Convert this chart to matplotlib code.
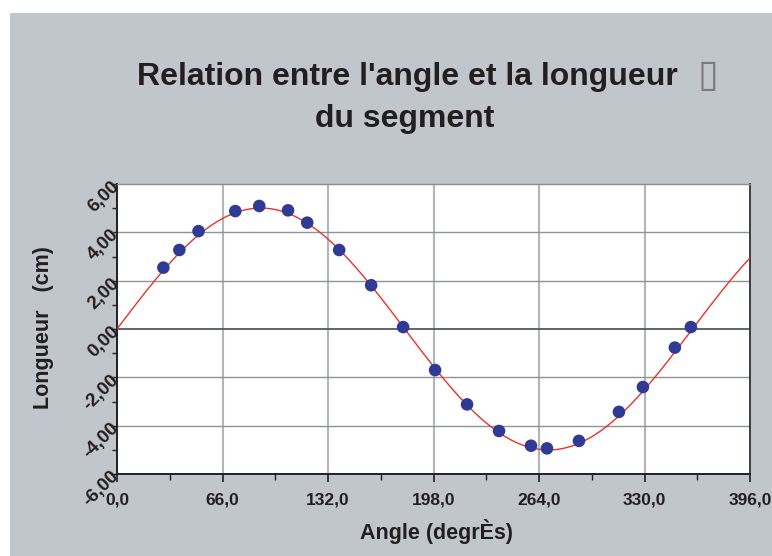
import numpy as np
import matplotlib
matplotlib.use("Agg")
import matplotlib.pyplot as plt
from matplotlib.patches import Rectangle
from matplotlib.ticker import MultipleLocator, FixedLocator

plt.rcParams['font.family'] = ['Liberation Sans', 'DejaVu Sans']

# Measured angle (degrees) and segment length (cm)
angles = [29, 39, 51, 74, 89, 107, 119, 139, 159, 179,
          199, 219, 239, 259, 269, 289, 314, 329, 349, 359]
lengths = [2.54, 3.27, 4.05, 4.88, 5.09, 4.91, 4.40, 3.27, 1.81, 0.08,
           -1.70, -3.12, -4.22, -4.83, -4.94, -4.63, -3.43, -2.40, -0.77, 0.08]

x_ticks = [0, 66, 132, 198, 264, 330, 396]
x_tick_labels = ["0,0", "66,0", "132,0", "198,0", "264,0", "330,0", "396,0"]
y_ticks = [-6, -4, -2, 0, 2, 4, 6]
y_tick_labels = ["-6,00", "-4,00", "-2,00", "0,00", "2,00", "4,00", "6,00"]

title_line1 = "Relation entre l'angle et la longueur"
title_line2 = "du segment"
x_label = "Angle (degrÈs)"
y_label = "Longueur   (cm)"

TEXT = "#231f20"
PANEL = "#c1c5cc"

W, H = 772, 556
fig = plt.figure(figsize=(W / 100, H / 100), dpi=100, facecolor="white")

# grey panel behind the chart
fig.patches.append(Rectangle((10 / W, 0), 1 - 10 / W, 1 - 13 / H,
                             transform=fig.transFigure, facecolor=PANEL,
                             edgecolor="none", zorder=-10))

ax = fig.add_axes([117 / W, 82 / H, 633 / W, 290 / H])
ax.set_facecolor("white")

# least-squares sine fit of the measurements: L = A * sin(angle)
th = np.radians(angles)
A = np.sum(np.array(lengths) * np.sin(th)) / np.sum(np.sin(th) ** 2)
xf = np.linspace(0, 396, 800)
ax.plot(xf, A * np.sin(np.radians(xf)), color="#e8322d", lw=1.0, zorder=3)

ax.scatter(angles, lengths, s=82, color="#2e3a94", edgecolors="none", zorder=4)

ax.set_xlim(0, 396)
ax.set_ylim(-6, 6)

# grid
for xv in x_ticks[1:-1]:
    ax.axvline(xv, color="#b2b6bb", lw=1.5, zorder=1)
for yv in [-4, -2, 2, 4]:
    ax.axhline(yv, color="#8f9398", lw=1.0, zorder=1)
ax.axhline(0, color="#55585c", lw=1.3, zorder=2)

ax.xaxis.set_major_locator(FixedLocator(x_ticks))
ax.xaxis.set_minor_locator(MultipleLocator(33))
ax.yaxis.set_major_locator(FixedLocator(y_ticks))
ax.yaxis.set_minor_locator(MultipleLocator(1))
ax.set_xticklabels(x_tick_labels)
ax.set_yticklabels(y_tick_labels)

ax.tick_params(axis="x", which="major", direction="out", length=6, width=1.2,
               color=TEXT, pad=7.5, labelsize=12.5, labelcolor=TEXT)
ax.tick_params(axis="x", which="minor", direction="out", length=4, width=1.0,
               color=TEXT)
ax.tick_params(axis="y", which="major", direction="out", length=3, width=1.0,
               color=TEXT, pad=-2.5, labelsize=13.5, labelcolor=TEXT)
ax.tick_params(axis="y", which="minor", direction="out", length=3.5, width=1.0,
               color=TEXT)
for lab in ax.get_xticklabels():
    lab.set_fontweight("bold")
for lab in ax.get_yticklabels():
    lab.set_fontweight("bold")
    lab.set_rotation(45)
    lab.set_rotation_mode("anchor")
    lab.set_ha("right")
    lab.set_va("center")

for side in ("left", "bottom"):
    ax.spines[side].set_color(TEXT)
    ax.spines[side].set_linewidth(1.4)
ax.spines["top"].set_color("#8a8d92")
ax.spines["top"].set_linewidth(1.0)
ax.spines["right"].set_color("#3c3d40")
ax.spines["right"].set_linewidth(1.4)

ax.set_xlabel(x_label, fontsize=15.5, fontweight="bold", color=TEXT, va="top")
ax.xaxis.set_label_coords((436 - 117) / 633, (474 - 519) / 290)
ax.set_ylabel(y_label, fontsize=15.5, fontweight="bold", color=TEXT, va="center")
ax.yaxis.set_label_coords((43 - 117) / 633, (474 - 327.5) / 290)

fig.text(407 / W, 1 - 85 / H, title_line1, ha="center", va="baseline",
         fontsize=23, fontweight="bold", color=TEXT)
fig.text(405 / W, 1 - 126.5 / H, title_line2, ha="center", va="baseline",
         fontsize=23, fontweight="bold", color=TEXT)
fig.text(698 / W, 1 - 86 / H, "\u25af", ha="left", va="baseline",
         fontsize=27, color="#7a7a7a", family=["DejaVu Sans"])

fig.savefig("out.png", dpi=100, facecolor=fig.get_facecolor())
